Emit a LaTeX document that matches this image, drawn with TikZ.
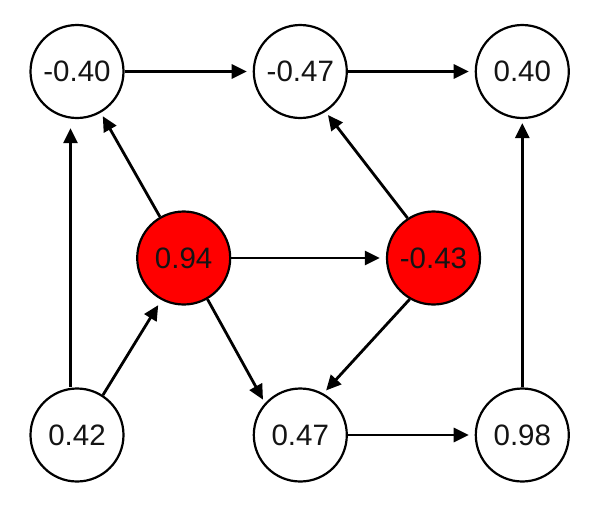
\documentclass[tikz,border=0pt]{standalone}
\usepackage{fontspec}
\setmainfont{Liberation Sans}
\usetikzlibrary{arrows.meta, positioning}
\definecolor{unitred}{RGB}{255,0,0}
\definecolor{unitdark}{RGB}{20,20,20}
\tikzset{
  unit/.style={circle, draw=black, fill=white, minimum size=93pt,
    inner sep=0pt, line width=2.2pt, text=unitdark,
    font=\fontsize{29.5}{31}\selectfont},
  redunit/.style={unit, fill=unitred},
  arrow/.style={-{Triangle[length=15pt, width=14pt]}, line width=2.8pt,
    color=black, shorten >=4pt}
}

\begin{document}
\begin{tikzpicture}[x=1pt, y=-1pt]
  \useasboundingbox (0,0) rectangle (594,515);

  % Top row
  \node[unit] (t_left) at (77,71.5) {-0.40};
  \node[unit] (t_mid) at (300.3,71.5) {-0.47};
  \node[unit] (t_right) at (522.3,71.5) {0.40};

  % Hidden units
  \node[redunit] (m_left) at (183.7,258) {0.94};
  \node[redunit] (m_right) at (433.5,258) {-0.43};

  % Bottom row
  \node[unit] (b_left) at (77,435) {0.42};
  \node[unit] (b_mid) at (300.3,435) {0.47};
  \node[unit] (b_right) at (522.3,435) {0.98};

  \draw[arrow, shorten >=6pt] (t_left) -- (t_mid);
  \draw[arrow, shorten >=6pt] (t_mid) -- (t_right);
  \draw[arrow, shorten >=6pt] (m_left) -- (m_right);
  \draw[arrow, shorten >=6pt] (b_mid) -- (b_right);
  \draw[arrow, shorten >=9pt] ([xshift=-6.5pt]b_left.north) -- ([xshift=-6.5pt]t_left.south);
  \draw[arrow] (b_right) -- (t_right);
  \draw[arrow] (m_left.120) -- (t_left.300);
  \draw[arrow] (m_right.123) -- (t_mid.302);
  \draw[arrow, shorten >=6pt] (b_left.57) -- (m_left.242);
  \draw[arrow] (m_left.300) -- (b_mid.138);
  \draw[arrow] (m_right.240) -- (b_mid.61);
\end{tikzpicture}
\end{document}
